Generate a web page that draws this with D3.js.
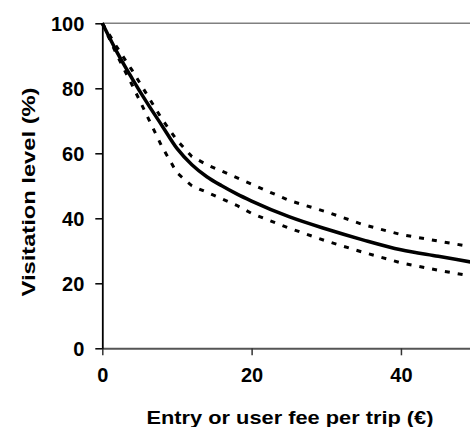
<!DOCTYPE html>
<html>
<head>
<meta charset="utf-8">
<script src="https://cdn.jsdelivr.net/npm/d3@7"></script>
<style>
  body { margin: 0; background: #fff; }
  svg text { font-family: "Liberation Sans", Arial, sans-serif; font-weight: bold; fill: #000; }
</style>
</head>
<body>
<div id="chart"></div>
<script>
// Data
// =================================
const fee = [0, 2, 4, 6, 8, 10, 12, 14, 16, 18, 20, 25, 30, 35, 40, 45, 50];
const visitMean  = [100, 91, 83, 75.5, 68.5, 61.5, 56.5, 52.8, 50, 47.5, 45.3, 40.5, 36.7, 33.3, 30.3, 28.3, 26.3];
const visitUpper = [100, 92.5, 85.5, 78, 70.5, 64, 59, 56.5, 54.5, 52.5, 50.5, 45.5, 42, 38, 35, 33, 31];
const visitLower = [100, 90, 81, 71.5, 62, 54, 50, 48, 46, 44, 41.5, 37, 33, 29.5, 26.3, 24, 22];
const xTicks = [0, 20, 40];
const yTicks = [0, 20, 40, 60, 80, 100];

// Set up chart
// =================================
const svgWidth = 470;
const svgHeight = 427;
const margin = { top: 23.3, right: -5.6, bottom: 78.7, left: 102.3 };
const width = svgWidth - margin.left - margin.right;
const height = svgHeight - margin.top - margin.bottom;

const svg = d3.select("#chart")
  .append("svg")
  .attr("width", svgWidth)
  .attr("height", svgHeight);

const chartGroup = svg.append("g")
  .attr("transform", `translate(${margin.left}, ${margin.top})`);

const xScale = d3.scaleLinear().domain([0, 50]).range([0, width]);
const yScale = d3.scaleLinear().domain([0, 100]).range([height, 0]);

// top border of plot area
chartGroup.append("line")
  .attr("x1", 0).attr("x2", width)
  .attr("y1", yScale(100)).attr("y2", yScale(100))
  .attr("stroke", "#808080").attr("stroke-width", 1.5);

// Axes
// =================================
const bottomAxis = d3.axisBottom(xScale).tickValues(xTicks).tickSize(7).tickPadding(13).tickSizeOuter(0);
const leftAxis = d3.axisLeft(yScale).tickValues(yTicks).tickSize(7).tickPadding(11).tickSizeOuter(0);

const xAxisG = chartGroup.append("g")
  .attr("transform", `translate(0, ${height})`)
  .call(bottomAxis);
xAxisG.select(".domain").attr("stroke", "#555").attr("stroke-width", 2);
xAxisG.selectAll(".tick line").attr("stroke", "#333").attr("stroke-width", 1.5);
xAxisG.selectAll(".tick text").style("font-size", "20px");

const yAxisG = chartGroup.append("g").call(leftAxis);
yAxisG.select(".domain").attr("stroke", "#000").attr("stroke-width", 1.8);
yAxisG.selectAll(".tick line").attr("stroke", "#000").attr("stroke-width", 1.5);
yAxisG.selectAll(".tick text").style("font-size", "20px").attr("dy", "0.35em");

// Lines
// =================================
const lineFor = (values, curve) => d3.line()
  .curve(curve)
  .x((d, i) => xScale(fee[i]))
  .y(d => yScale(d))(values);

[visitUpper, visitLower].forEach(values => {
  chartGroup.append("path")
    .attr("d", lineFor(values, d3.curveLinear))
    .attr("fill", "none")
    .attr("stroke", "#000")
    .attr("stroke-width", 3)
    .attr("stroke-dasharray", "5,8");
});

chartGroup.append("path")
  .attr("d", lineFor(visitMean, d3.curveMonotoneX))
  .attr("fill", "none")
  .attr("stroke", "#000")
  .attr("stroke-width", 3.5)
  .attr("stroke-linejoin", "round");

// Axis labels
// =================================
svg.append("text")
  .attr("transform", "translate(35, 192) rotate(-90)")
  .style("text-anchor", "middle")
  .style("font-size", "19px")
  .attr("textLength", 209)
  .attr("lengthAdjust", "spacingAndGlyphs")
  .text("Visitation level (%)");

svg.append("text")
  .attr("x", 290)
  .attr("y", 423.5)
  .style("text-anchor", "middle")
  .style("font-size", "19px")
  .attr("textLength", 287)
  .attr("lengthAdjust", "spacingAndGlyphs")
  .text("Entry or user fee per trip (€)");
</script>
</body>
</html>
